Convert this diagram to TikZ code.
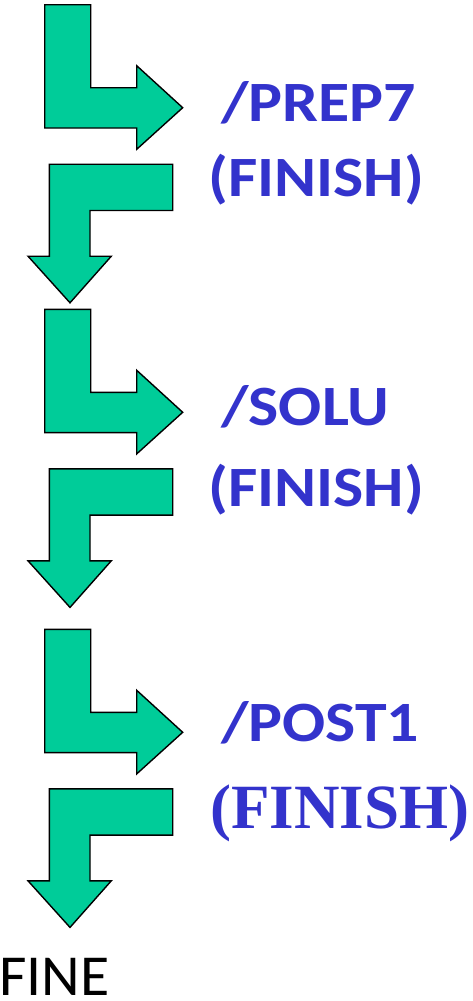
\documentclass[tikz,border=0pt]{standalone}
\usepackage{fontspec}
\newfontfamily\carl{Carlito}
\newfontfamily\libser{Liberation Serif}
\definecolor{arrowgreen}{RGB}{0,204,153}
\definecolor{textblue}{RGB}{51,51,204}
\newcommand{\wide}[1]{\scalebox{1.12}[1]{#1}}
\begin{document}
\begin{tikzpicture}[x=1pt,y=-1pt,
  bent/.style={fill=arrowgreen,draw=black,line width=1.4pt,line join=miter},
  lbl/.style={anchor=base west,inner sep=0pt,text=textblue,font=\carl\bfseries\fontsize{57}{60}\selectfont},
  lblserif/.style={anchor=base west,inner sep=0pt,text=textblue,font=\libser\bfseries\fontsize{63}{66}\selectfont}]
\useasboundingbox (0,0) rectangle (472,1001);
\foreach \y in {4.7,309.3,629.3}{
  \draw[bent] (44.7,\y) -- (90.7,\y) -- (90.7,\y+83) -- (136.7,\y+83) -- (136.7,\y+61)
     -- (182.7,\y+103) -- (136.7,\y+144.6) -- (136.7,\y+123.3) -- (44.7,\y+123.3) -- cycle;
  \draw[bent] (49.3,\y+159.5) -- (172.7,\y+159.5) -- (172.7,\y+205.8) -- (90,\y+205.8)
     -- (90,\y+251.5) -- (111.3,\y+251.5) -- (70,\y+298.1) -- (28,\y+251.5) -- (49.3,\y+251.5) -- cycle;
}
\node[lbl] (prep) at (221,121.7) {\wide{/PREP7}};
\node[lbl] (fin1) at (208,196.7) {\wide{(FINISH)}};
\node[lbl] (solu) at (221,425) {\wide{/SOLU}};
\node[lbl] (fin2) at (208,506.7) {\wide{(FINISH)}};
\node[lbl] (post) at (221,741.7) {\wide{/POST1}};
\node[lblserif] (fin3) at (210,828.3) {(FINISH)};
\node[anchor=base west,inner sep=0pt,font=\carl\fontsize{58}{60}\selectfont] (fine) at (-1,995) {\scalebox{1.03}[1]{FINE}};
\end{tikzpicture}
\end{document}
